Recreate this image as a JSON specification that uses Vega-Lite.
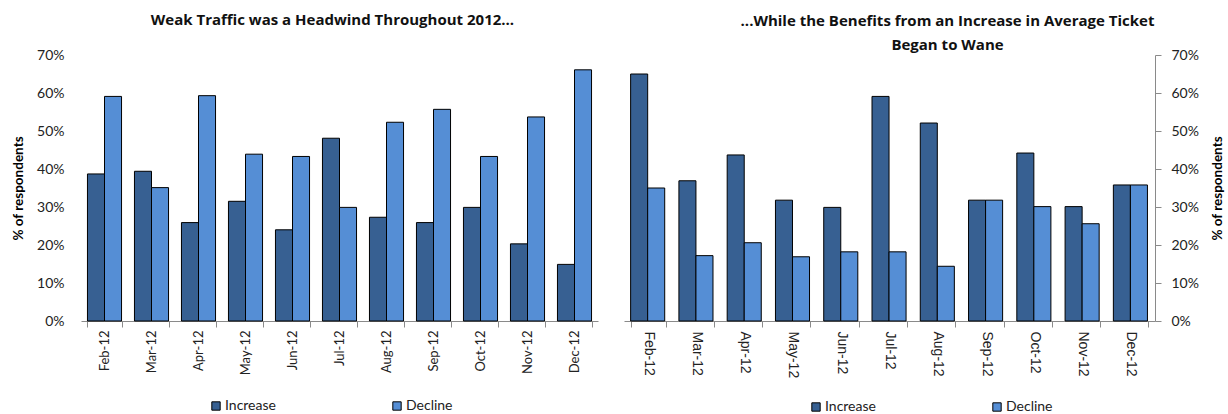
{
  "$schema": "https://vega.github.io/schema/vega-lite/v6.json",
  "background": "white",
  "padding": {"left": 11, "top": 13, "right": 5, "bottom": 0},
  "autosize": {"type": "pad"},
  "bounds": "flush",
  "spacing": 26,
  "datasets": {
    "traffic": [
      {"month": "Feb-12", "series": "Increase", "value": 38.7},
      {"month": "Mar-12", "series": "Increase", "value": 39.4},
      {"month": "Apr-12", "series": "Increase", "value": 25.9},
      {"month": "May-12", "series": "Increase", "value": 31.5},
      {"month": "Jun-12", "series": "Increase", "value": 24.0},
      {"month": "Jul-12", "series": "Increase", "value": 48.1},
      {"month": "Aug-12", "series": "Increase", "value": 27.3},
      {"month": "Sep-12", "series": "Increase", "value": 25.9},
      {"month": "Oct-12", "series": "Increase", "value": 29.9},
      {"month": "Nov-12", "series": "Increase", "value": 20.3},
      {"month": "Dec-12", "series": "Increase", "value": 14.9},
      {"month": "Feb-12", "series": "Decline", "value": 59.1},
      {"month": "Mar-12", "series": "Decline", "value": 35.1},
      {"month": "Apr-12", "series": "Decline", "value": 59.3},
      {"month": "May-12", "series": "Decline", "value": 43.9},
      {"month": "Jun-12", "series": "Decline", "value": 43.3},
      {"month": "Jul-12", "series": "Decline", "value": 29.9},
      {"month": "Aug-12", "series": "Decline", "value": 52.3},
      {"month": "Sep-12", "series": "Decline", "value": 55.7},
      {"month": "Oct-12", "series": "Decline", "value": 43.3},
      {"month": "Nov-12", "series": "Decline", "value": 53.7},
      {"month": "Dec-12", "series": "Decline", "value": 66.1}
    ],
    "ticket": [
      {"month": "Feb-12", "series": "Increase", "value": 65.0},
      {"month": "Mar-12", "series": "Increase", "value": 36.9},
      {"month": "Apr-12", "series": "Increase", "value": 43.7},
      {"month": "May-12", "series": "Increase", "value": 31.8},
      {"month": "Jun-12", "series": "Increase", "value": 29.9},
      {"month": "Jul-12", "series": "Increase", "value": 59.1},
      {"month": "Aug-12", "series": "Increase", "value": 52.1},
      {"month": "Sep-12", "series": "Increase", "value": 31.8},
      {"month": "Oct-12", "series": "Increase", "value": 44.2},
      {"month": "Nov-12", "series": "Increase", "value": 30.1},
      {"month": "Dec-12", "series": "Increase", "value": 35.8},
      {"month": "Feb-12", "series": "Decline", "value": 35.0},
      {"month": "Mar-12", "series": "Decline", "value": 17.2},
      {"month": "Apr-12", "series": "Decline", "value": 20.6},
      {"month": "May-12", "series": "Decline", "value": 16.9},
      {"month": "Jun-12", "series": "Decline", "value": 18.2},
      {"month": "Jul-12", "series": "Decline", "value": 18.2},
      {"month": "Aug-12", "series": "Decline", "value": 14.4},
      {"month": "Sep-12", "series": "Decline", "value": 31.8},
      {"month": "Oct-12", "series": "Decline", "value": 30.1},
      {"month": "Nov-12", "series": "Decline", "value": 25.6},
      {"month": "Dec-12", "series": "Decline", "value": 35.8}
    ]
  },
  "config": {
    "view": {"stroke": null},
    "font": "Lato",
    "axis": {
      "labelFont": "Lato",
      "titleFont": "Lato",
      "labelColor": "#222222",
      "titleColor": "#000000",
      "domainColor": "#8a8a8a",
      "tickColor": "#8a8a8a",
      "grid": false,
      "labelFontSize": 13,
      "titleFontSize": 13.5,
      "titleFontWeight": "bold"
    },
    "legend": {
      "labelFont": "Lato",
      "labelFontSize": 14,
      "labelColor": "#222222",
      "symbolType": "square",
      "symbolSize": 70,
      "symbolStrokeColor": "#000000",
      "symbolStrokeWidth": 1,
      "symbolOpacity": 1,
      "labelOffset": 2,
      "columnPadding": 114,
      "padding": 0
    },
    "title": {"font": "Open Sans", "fontSize": 15, "fontWeight": "bold", "color": "#111111"}
  },
  "resolve": {"legend": {"color": "independent"}},
  "hconcat": [
    {
      "data": {"name": "traffic"},
      "width": 517,
      "height": 266,
      "title": {"text": "Weak Traffic was a Headwind Throughout 2012...", "anchor": "middle", "frame": "group", "offset": 20, "dx": -7},
      "mark": {"type": "bar", "stroke": "#000000", "strokeWidth": 1},
      "encoding": {
        "x": {
          "field": "month", "type": "nominal",
          "sort": ["Feb-12", "Mar-12", "Apr-12", "May-12", "Jun-12", "Jul-12", "Aug-12", "Sep-12", "Oct-12", "Nov-12", "Dec-12"],
          "scale": {"paddingInner": 0.275, "paddingOuter": 0.1375},
          "axis": {"title": null, "labelAngle": -90, "tickBand": "extent", "tickSize": 6, "labelPadding": 3}
        },
        "xOffset": {"field": "series", "type": "nominal", "sort": ["Increase", "Decline"], "scale": {"paddingInner": 0, "paddingOuter": 0}},
        "y": {
          "field": "value", "type": "quantitative",
          "scale": {"domain": [0, 70], "nice": false},
          "axis": {"values": [0, 10, 20, 30, 40, 50, 60, 70], "labelExpr": "datum.value + '%'", "labelFontSize": 14, "domain": false, "ticks": false, "labelPadding": 17, "title": "% of respondents", "titlePadding": 11}
        },
        "color": {
          "field": "series", "type": "nominal",
          "scale": {"domain": ["Increase", "Decline"], "range": ["#376092", "#558ED5"]},
          "legend": {"orient": "none", "legendX": 128, "legendY": 344, "direction": "horizontal", "title": null}
        }
      }
    },
    {
      "data": {"name": "ticket"},
      "width": 531,
      "height": 266,
      "title": {"text": ["...While the Benefits from an Increase in Average Ticket", "Began to Wane"], "anchor": "middle", "frame": "group", "offset": -5, "lineHeight": 24, "dx": 58},
      "mark": {"type": "bar", "stroke": "#000000", "strokeWidth": 1},
      "encoding": {
        "x": {
          "field": "month", "type": "nominal",
          "sort": ["Feb-12", "Mar-12", "Apr-12", "May-12", "Jun-12", "Jul-12", "Aug-12", "Sep-12", "Oct-12", "Nov-12", "Dec-12"],
          "scale": {"paddingInner": 0.275, "paddingOuter": 0.1375},
          "axis": {"title": null, "labelAngle": 90, "tickBand": "extent", "tickSize": 6, "labelPadding": 4, "labelFontSize": 14, "labelFont": "Liberation Sans"}
        },
        "xOffset": {"field": "series", "type": "nominal", "sort": ["Increase", "Decline"], "scale": {"paddingInner": 0, "paddingOuter": 0}},
        "y": {
          "field": "value", "type": "quantitative",
          "scale": {"domain": [0, 70], "nice": false},
          "axis": {"orient": "right", "values": [0, 10, 20, 30, 40, 50, 60, 70], "labelExpr": "datum.value + '%'", "labelFontSize": 14, "domain": true, "ticks": true, "tickSize": 6, "labelPadding": 10, "title": "% of respondents", "titleAngle": 270, "titleBaseline": "top", "titlePadding": 12}
        },
        "color": {
          "field": "series", "type": "nominal",
          "scale": {"domain": ["Increase", "Decline"], "range": ["#376092", "#558ED5"]},
          "legend": {"orient": "none", "legendX": 185, "legendY": 345, "direction": "horizontal", "title": null}
        }
      }
    }
  ]
}
